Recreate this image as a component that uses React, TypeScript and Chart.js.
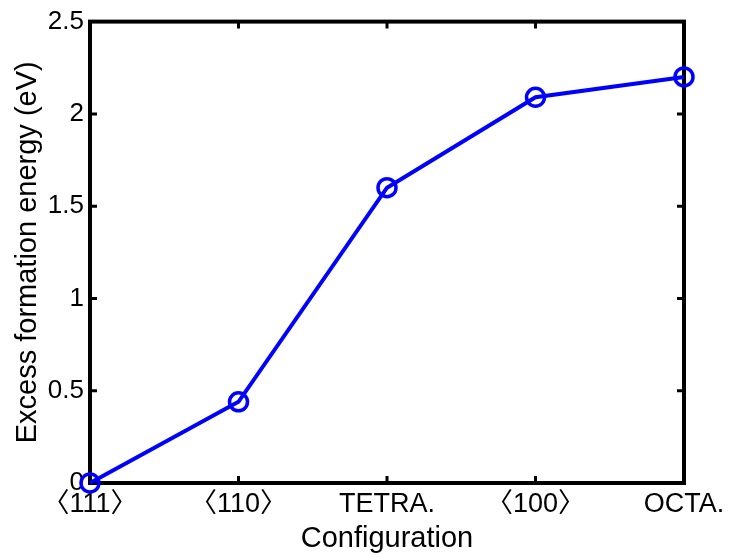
import React, { useEffect, useRef } from "react";
import { Chart, registerables } from "chart.js";

Chart.register(...registerables);

const categories = ["〈111〉", "〈110〉", "TETRA.", "〈100〉", "OCTA."];
const energies = [0, 0.44, 1.6, 2.09, 2.2];
const yMin = 0;
const yMax = 2.5;
const yStep = 0.5;
const xTitle = "Configuration";
const yTitle = "Excess formation energy (eV)";

const FONT = "'Liberation Sans', 'Noto Sans CJK JP', Arial, sans-serif";

const boxPlugin = {
  id: "matlabBox",
  beforeDatasetsDraw(chart: any) {
    const { ctx, chartArea } = chart;
    const { left, right, top, bottom } = chartArea;
    ctx.save();
    ctx.strokeStyle = "#000";
    ctx.lineWidth = 4;
    ctx.lineJoin = "miter";
    ctx.strokeRect(left, top, right - left, bottom - top);
    ctx.lineWidth = 3;
    const tl = 7;
    const xs = chart.scales.x;
    const ys = chart.scales.y;
    ctx.beginPath();
    for (let i = 0; i < xs.ticks.length; i++) {
      const px = xs.getPixelForTick(i);
      ctx.moveTo(px, bottom);
      ctx.lineTo(px, bottom - tl);
      ctx.moveTo(px, top);
      ctx.lineTo(px, top + tl);
    }
    for (let i = 0; i < ys.ticks.length; i++) {
      const py = ys.getPixelForTick(i);
      ctx.moveTo(left, py);
      ctx.lineTo(left + tl, py);
      ctx.moveTo(right, py);
      ctx.lineTo(right - tl, py);
    }
    ctx.stroke();
    ctx.restore();
  },
};

export default function App() {
  const ref = useRef<HTMLCanvasElement | null>(null);
  useEffect(() => {
    if (!ref.current) return;
    const chart = new Chart(ref.current, {
      type: "line",
      data: {
        labels: categories,
        datasets: [
          {
            data: energies,
            borderColor: "#0000ff",
            borderWidth: 4,
            pointStyle: "circle",
            pointRadius: 9,
            pointBorderWidth: 3.5,
            pointBorderColor: "#0000ff",
            pointBackgroundColor: "rgba(0,0,0,0)",
            tension: 0,
            clip: false as any,
          },
        ],
      },
      options: {
        animation: false,
        responsive: false,
        layout: { padding: { left: 0, top: 20.5, right: 49, bottom: 0 } },
        plugins: { legend: { display: false }, tooltip: { enabled: false } },
        scales: {
          x: {
            type: "category",
            offset: false,
            grid: { display: false, drawTicks: false },
            border: { display: false },
            ticks: {
              color: "#000",
              font: { family: FONT, size: 27 },
              padding: 5,
              maxRotation: 0,
              autoSkip: false,
            },
            title: {
              display: true,
              text: xTitle,
              color: "#000",
              font: { family: FONT, size: 29 },
              padding: { top: 0, bottom: 1 },
            },
            afterFit(scale: any) {
              scale.height = 74;
            },
          },
          y: {
            min: yMin,
            max: yMax,
            grid: { display: false, drawTicks: false },
            border: { display: false },
            ticks: {
              stepSize: yStep,
              color: "#000",
              font: { family: FONT, size: 26 },
              padding: 6,
              callback: (v: any) => String(Number(v)),
            },
            title: {
              display: true,
              text: yTitle,
              color: "#000",
              font: { family: FONT, size: 29 },
              padding: { top: 11, bottom: 0 },
            },
            afterFit(scale: any) {
              scale.width = 90;
            },
          },
        },
      },
      plugins: [boxPlugin],
    });
    return () => chart.destroy();
  }, []);
  return (
    <div style={{ position: "absolute", left: 0, top: 0, width: 733, height: 557, background: "#fff" }}>
      <canvas ref={ref} width={733} height={557} style={{ display: "block" }} />
    </div>
  );
}
